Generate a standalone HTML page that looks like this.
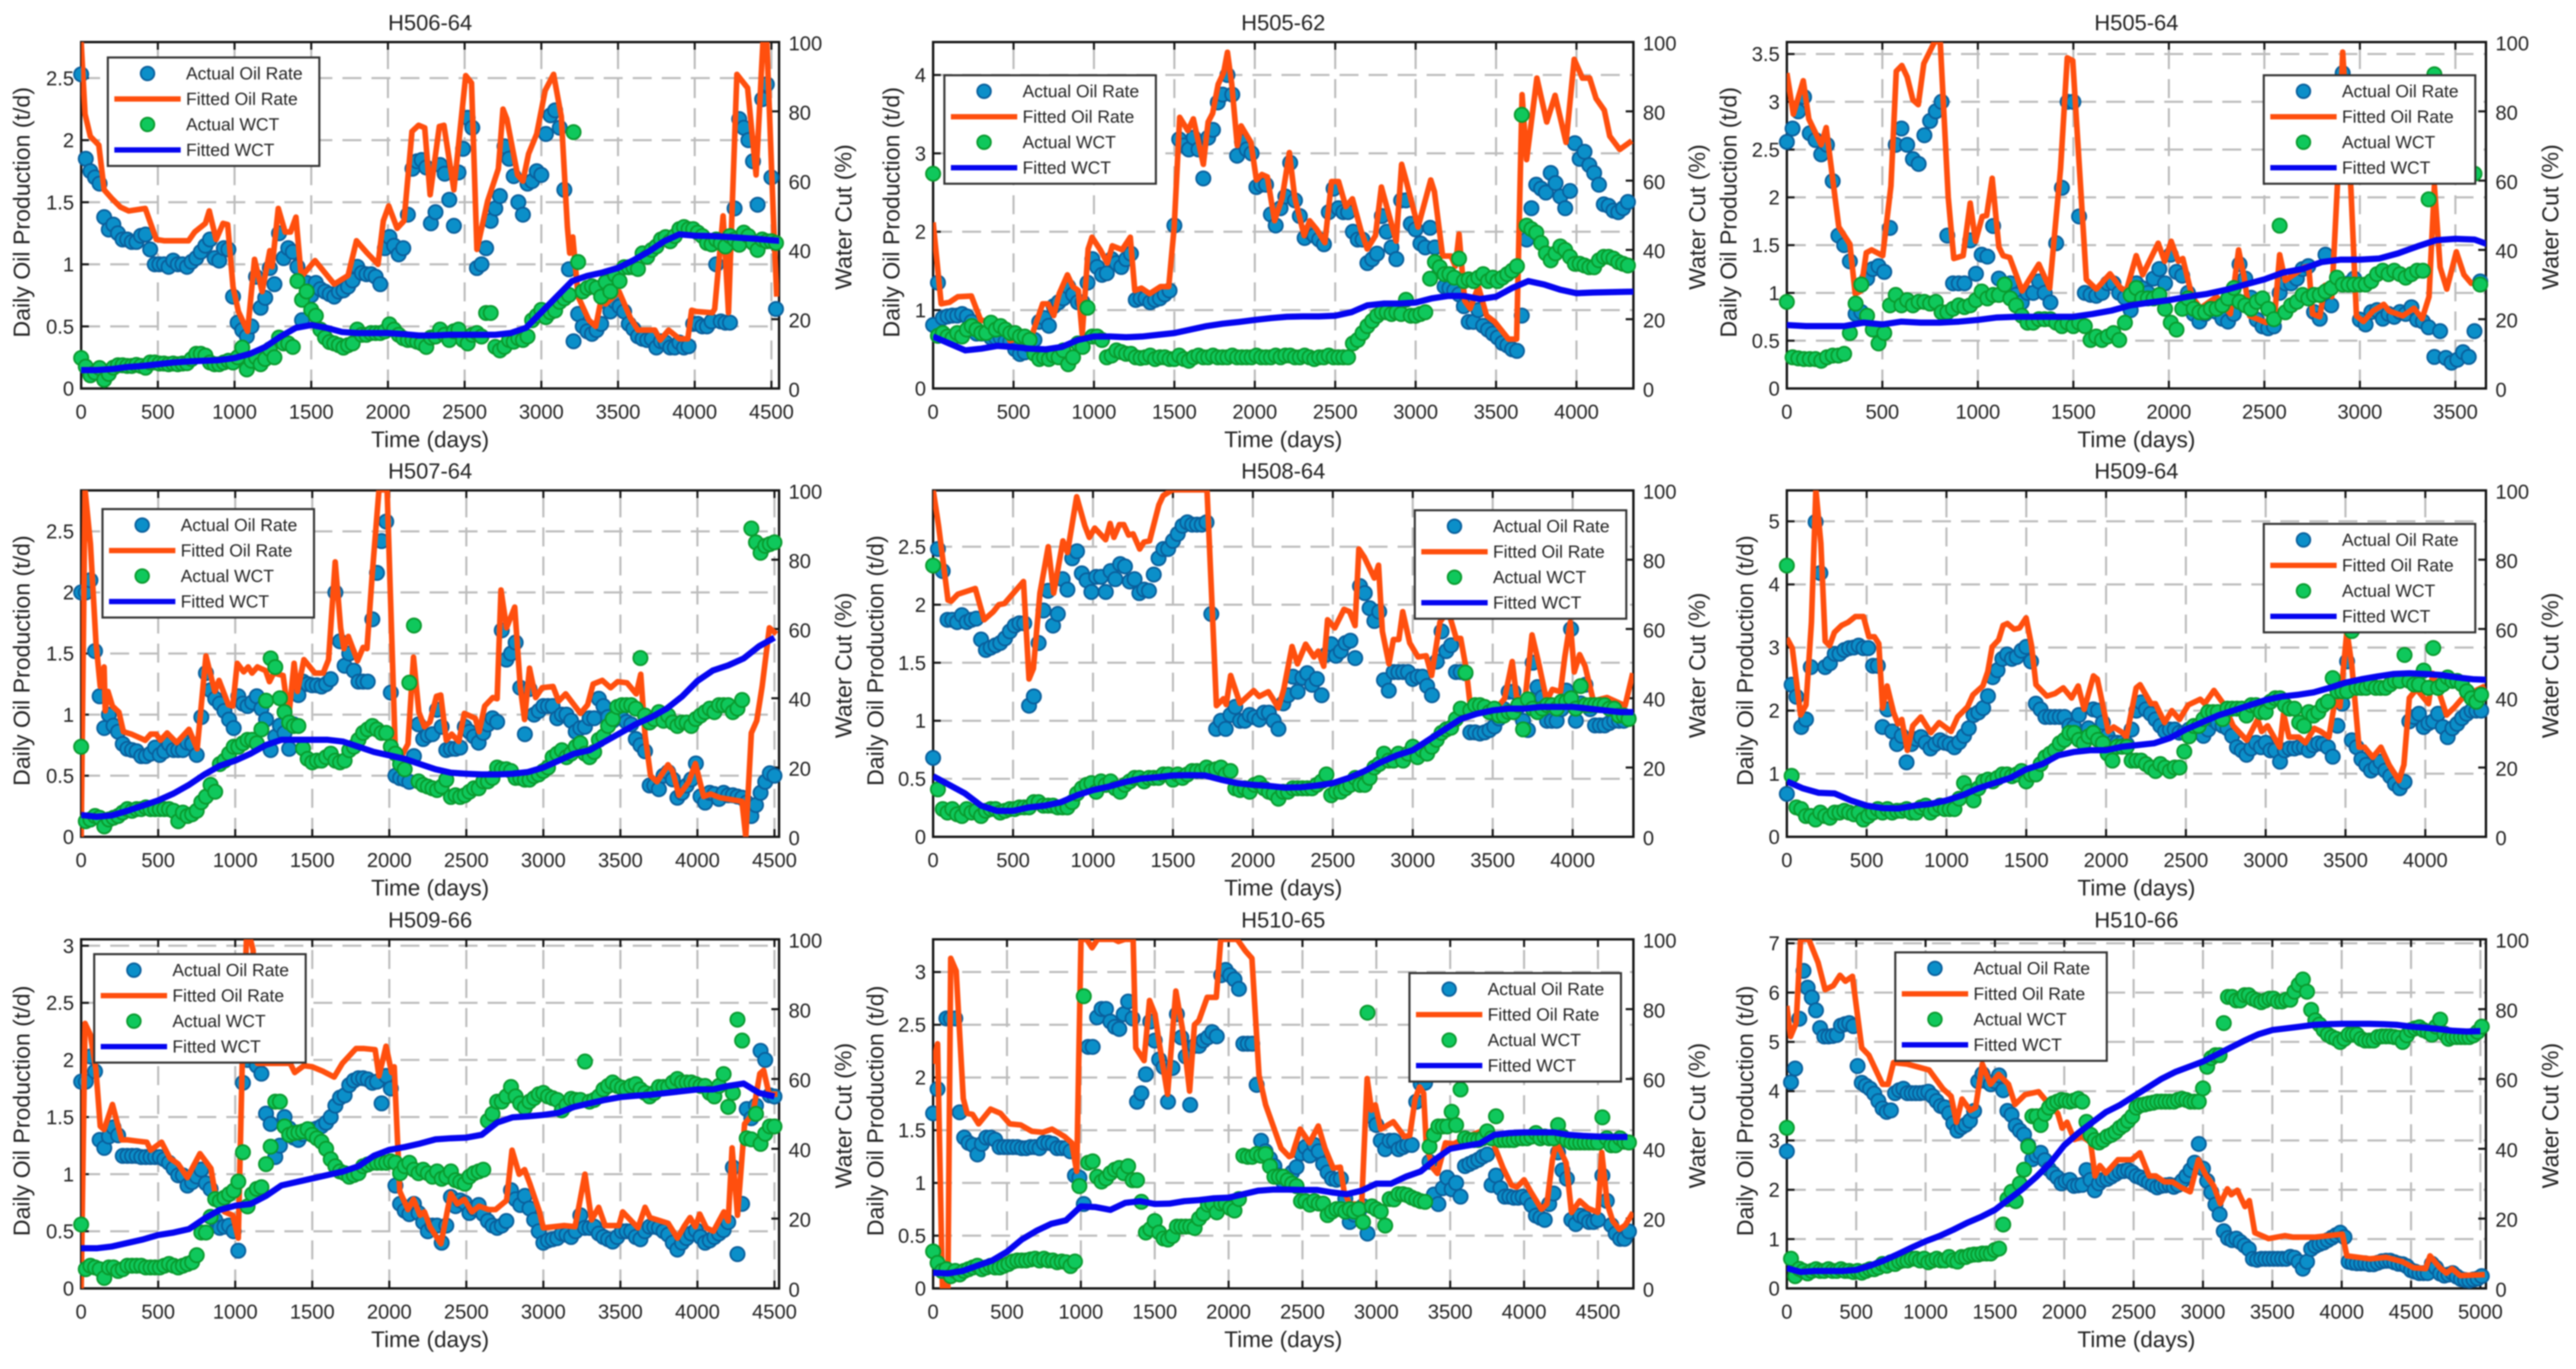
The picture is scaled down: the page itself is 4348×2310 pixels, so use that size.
<!DOCTYPE html>
<html lang="en">
<head>
<meta charset="utf-8">
<title>Oil rate and water cut fits for nine wells</title>
<style>
html,body{margin:0;padding:0;background:#fff;}
#chart{display:block;width:4348px;height:2310px;filter:blur(1px);font-family:"Liberation Sans",sans-serif;}
</style>
</head>
<body>
<svg id="chart" viewBox="0 0 4348 2310" width="4348" height="2310"></svg>
<script>
/* Sampling intervals (days) for the regularly spaced series */
const sampleDays = 30;
const fitWctDays = 100;

/* ---------- H506-64 ---------- */
const h50664XTicks = [0,500,1000,1500,2000,2500,3000,3500,4000,4500];
const h50664YTicks = [0,0.5,1,1.5,2,2.5];
const h50664ActualOil = [
2.53,1.85,1.75,1.70,1.65,1.38,1.28,1.32,1.25,1.2,
1.2,1.18,1.18,1.23,1.24,1.12,1.0,1.0,1.0,.98,
1.03,1.0,1.0,.98,1.02,1.05,1.1,1.15,1.2,1.05,
1.03,1.13,1.12,.74,.53,.47,.42,.5,.9,.65,
.73,.97,.84,1.25,1.05,1.13,1.1,.98,.55,.85,
.75,.85,.8,.78,.76,.74,.78,.79,.82,.87,
.98,.93,.92,.92,.9,.84,1.13,1.22,1.15,1.08,
1.13,1.4,1.77,1.83,1.84,1.78,1.33,1.42,1.8,1.73,
1.52,1.31,1.74,1.93,2.18,2.1,.97,1.0,1.13,1.35,
1.45,1.55,1.95,1.85,1.71,1.5,1.4,1.65,1.67,1.75,
1.72,2.05,2.2,2.24,2.1,1.6,.96,.38,.6,.5,
.46,.44,.47,.52,.7,.62,.7,.66,.62,.52,
.48,.42,.4,.39,.4,.33,.38,.37,.33,.33,
.37,.33,.34,.52,.52,.5,.5,.54,1.0,.54,
.53,.53,1.45,2.17,2.1,2.0,1.83,1.48,2.33,2.45,
1.7,.64];
const h50664FitDays = [
0,25,60,115,150,200,257,310,418,490,
540,700,740,810,835,880,925,955,990,1025,
1085,1130,1180,1230,1245,1285,1330,1365,1400,1435,
1525,1650,1740,1795,1865,1935,1970,2005,2060,2105,
2157,2200,2240,2275,2335,2365,2430,2507,2545,2580,
2650,2720,2750,2775,2845,2880,2917,2970,3025,3080,
3130,3170,3185,3205,3240,3310,3355,3400,3420,3507,
3580,3630,3740,3775,3830,3900,3955,3980,4010,4115,
4130,4185,4220,4275,4345,4400,4445,4470,4515,4535];
const h50664FitOil = [
2.79,2.21,2.03,1.96,1.6,1.53,1.46,1.43,1.45,1.2,
1.19,1.19,1.26,1.33,1.43,1.2,1.33,1.32,.82,.62,
.46,1.04,.78,1.11,.98,1.45,1.26,1.26,1.38,.9,
1.03,.84,.91,1.19,1.09,1.0,1.35,1.47,1.29,1.35,
2.07,2.12,2.1,1.56,2.11,2.12,1.6,2.52,2.46,1.12,
1.51,1.77,2.25,2.17,1.72,1.67,1.89,2.05,2.4,2.53,
2.19,1.3,1.09,1.22,.74,.55,.5,.78,.68,.78,
.57,.47,.47,.39,.47,.4,.4,.63,.62,.61,
.64,1.39,.61,2.53,2.42,1.72,2.79,2.79,1.32,.74];
const h50664ActualWct = [
8.8,6.3,3.8,4.6,5.9,2.5,4.2,6,6.7,6.7,
6.5,6.5,6.8,6.5,6,7.5,7.5,7.2,7.2,7,
7.2,7,7.2,7.3,8.5,10,10,9.5,7.5,7,
7,7.5,8,7.5,9,11.8,5.5,8,9,7,
8.5,11.3,9,14.7,13,13,12,31,25.6,28,
22.7,21,17,14.7,13.4,13,12.5,11.8,12.5,13,
17,15.5,15.5,16,16,16,16.5,18.5,17,15.5,
14.5,14,14,13.5,13,12,14.7,15,17,15.5,
14,16.5,17,14,13,15.5,16,15,21.8,21.8,
12,11,12,14,13.5,14.5,14,15,19.7,21,
22.7,20.6,22,22.5,25,26,27,74,36.5,28,
29,29.5,29,26.5,30.7,28,32.8,31,35,35,
35,34.5,39,38,40,41,43,43.7,42.5,44,
46,46.6,46,46,45,44,42,41.6,43,42,
41,44,43,41.5,45,44,42,40,43,42.5,
42.5,42];
const h50664FitWct = [
5.3,5.3,5.6,6.2,6.5,7,7.5,7.8,8,8.2,
8.8,10,12,15,17.5,18.3,17.5,16.3,16,16,
16,15.7,15.3,15.3,15.5,15.5,15.5,15.5,16,17.5,
22,26.5,31,32.5,33.5,34.8,37,39.5,42.5,44.5,
44.1,44,43.8,43.5,43.2,42.8,42.5];

/* ---------- H505-62 ---------- */
const h50562XTicks = [0,500,1000,1500,2000,2500,3000,3500,4000];
const h50562YTicks = [0,1,2,3,4];
const h50562ActualOil = [
.81,1.35,.9,.92,.93,.93,.95,.92,.85,.7,
.7,.7,.65,.65,.65,.6,.6,.5,.44,.46,
.55,.62,.85,.9,.8,1.05,1.1,1.15,1.3,1.2,
1.1,1.1,1.35,1.65,1.55,1.45,1.47,1.65,1.6,1.55,
1.65,1.72,1.13,1.15,1.15,1.1,1.13,1.15,1.2,1.25,
2.08,3.18,3.1,3.05,3.2,3.05,2.68,3.2,3.3,3.65,
3.75,4.0,3.75,2.97,3.15,3.05,3.0,2.57,2.6,2.6,
2.22,2.08,2.3,2.45,2.88,2.4,2.2,1.92,2.0,1.95,
1.9,1.84,2.25,2.55,2.3,2.25,2.25,2.0,1.9,1.9,
1.6,1.65,1.72,2.2,2.0,1.8,1.65,2.4,2.4,2.1,
2.03,1.85,1.8,2.05,1.8,1.5,1.3,1.28,1.25,1.2,
1.05,.85,.85,1.0,.8,.75,.7,.65,.58,.55,
.5,.48,.93,1.9,2.3,2.6,2.55,2.5,2.75,2.62,
2.45,2.3,2.52,3.13,2.93,3.02,2.85,2.75,2.6,2.35,
2.33,2.27,2.25,2.3,2.38];
const h50562FitDays = [
0,50,102,153,238,296,426,477,613,681,
715,750,784,835,869,903,927,964,988,1039,
1083,1114,1175,1226,1254,1295,1346,1414,1465,1499,
1533,1584,1618,1680,1710,1738,1772,1806,1830,1857,
1891,1915,1976,2010,2044,2078,2123,2170,2215,2249,
2307,2341,2385,2436,2477,2521,2566,2607,2658,2699,
2750,2787,2879,2913,2940,3015,3094,3117,3168,3220,
3247,3270,3305,3339,3390,3441,3492,3577,3628,3662,
3690,3754,3815,3867,3935,3986,4037,4082,4122,4173,
4207,4269,4344];
const h50562FitOil = [
2.12,1.08,1.1,1.17,1.18,.87,.85,.61,.67,1.08,
1.08,.93,1.21,1.45,1.3,1.25,.69,1.78,1.93,1.77,
1.6,1.82,1.77,1.93,1.25,1.28,1.21,1.3,1.3,2.06,
3.46,3.29,3.44,2.86,3.4,3.51,3.88,4.03,4.29,3.88,
3.1,3.35,3.14,2.66,2.73,2.7,2.14,2.43,3.01,2.43,
1.95,2.14,2.03,1.86,2.64,2.64,2.32,2.42,2.03,1.78,
1.95,2.57,1.88,2.86,2.66,2.06,2.66,2.51,1.69,1.69,
1.56,1.97,1.12,1.02,1.3,.93,.85,.63,.63,3.75,
2.92,3.96,3.4,3.74,3.14,4.2,3.96,3.96,3.7,3.55,
3.22,3.05,3.16];
const h50562ActualWct = [
62,15.2,16,15,14.5,16,15,17,18,17,
16,16,19,17,18,17,16,16,15,15,
14,10,8.5,9,8.5,9.5,9,11,7,9,
13,12,23.3,15,15,14,9,9.5,11,10.5,
10,10,9,8.8,9,9.5,8.5,9,9,8.5,
8.5,9.5,8.5,8,9,9.5,9,9,9.5,9,
9,9,9.5,9,9,9,9,9.5,9,9,
9,9.5,9,9.5,9.5,9,9,9.5,9,8.5,
9,9,9.5,9,9,9,9,13,14,16,
18,19.5,21,22,22,21.5,22,21.5,25.6,21,
21,21.5,22,31.7,36.5,35,33,33,32,37.5,
31,31.5,31,32,33,31,32,31,32,33,
34,35.3,79,47,46,45,42,39,37,39,
41,40,38,36,36,35.5,35,35,37,38,
38,37.5,36.5,36,35.5];
const h50562FitWct = [
15,13,11,11.5,12.3,12,11.5,11.3,12,14,
15,15,14.8,15,15.5,16,17,18,18.7,19.2,
19.8,20.3,20.7,20.8,20.8,21,22,24,24.5,24.5,
24.8,26,26.7,26.7,25.8,26.5,29,31,30,28.5,
27.5,27.7,27.8,27.9,28];

/* ---------- H505-64 ---------- */
const h50564XTicks = [0,500,1000,1500,2000,2500,3000,3500];
const h50564YTicks = [0,0.5,1,1.5,2,2.5,3,3.5];
const h50564ActualOil = [
2.58,2.72,2.9,3.05,2.67,2.6,2.45,2.55,2.17,1.6,
1.5,1.33,.78,.8,1.15,1.25,1.28,1.22,1.68,2.55,
2.72,2.55,2.4,2.35,2.65,2.8,2.9,3.0,1.6,1.1,
1.1,1.1,1.55,1.2,1.4,1.38,1.7,1.15,1.05,1.1,
.98,.9,1.0,1.0,1.12,1.0,.9,1.52,2.1,3.0,
3.0,1.8,1.0,.98,.97,1.0,1.1,1.1,1.0,.95,
.82,1.1,1.05,1.0,1.15,1.25,1.1,1.4,1.22,1.18,
1.0,.78,.7,.78,.85,.8,.73,.7,.78,1.3,
1.15,.95,.72,.65,.63,.65,1.0,1.1,1.1,1.15,
1.25,1.28,.8,.73,1.4,.87,1.1,3.3,1.1,1.15,
.72,.67,.8,.82,.73,.78,.75,.8,.78,.85,
.72,.7,.64,.33,.6,.32,.27,.3,.38,.33,
.6,1.12];
const h50564FitDays = [
0,34,86,115,180,206,272,330,358,387,
416,444,502,545,573,602,630,660,688,717,
774,803,845,874,923,960,988,1023,1046,1075,
1110,1132,1167,1232,1319,1376,1433,1468,1497,1568,
1620,1692,1748,1777,1829,1863,1944,1978,2012,2050,
2073,2122,2165,2250,2322,2365,2394,2423,2508,2552,
2580,2609,2710,2732,2752,2790,2818,2853,2882,2910,
2953,2982,3019,3068,3125,3154,3225,3283,3326,3362,
3390,3420,3455,3505,3545,3583,3610];
const h50564FitOil = [
3.3,2.87,3.22,2.82,2.55,2.73,1.69,1.51,.99,1.02,
1.42,1.45,1.39,2.12,3.32,3.38,3.26,3.02,2.97,3.4,
3.63,3.63,2.0,1.36,1.39,1.94,1.54,1.8,1.81,2.2,
1.48,1.39,1.37,1.02,1.3,1.05,2.3,3.46,3.43,1.14,
1.04,1.2,1.05,1.02,1.39,1.19,1.52,1.33,1.54,1.33,
1.36,.96,.84,.96,.78,1.45,1.17,.76,.69,.72,
1.4,1.13,1.27,1.28,.78,.75,1.08,.96,2.12,3.52,
2.09,.76,.7,.81,.88,.81,.76,.84,.73,.96,
2.12,1.27,1.04,1.43,1.19,1.1,1.1];
const h50564ActualWct = [
25,9,8.7,8.5,8.5,8.5,8,9,9.5,9.5,
10,16,24.5,30,21,17,13,16,24,27,
24,25.5,24,25,25,24.5,25,22,22,23,
24,23.5,24,25.5,28,26,27,27,30,26,
24,21,19,19,20,20,20,19,18,19,
18,19,18,14,15,14,15,16,14,19,
27,29,26,26,26,27,23,19,17,23,
26,23,22,22,23,23,24,26,29,25,
24,23,25,26,23,20,47,22,24,25,
27,26,27,27,28,29,32,30,30,30,
30,30,31,33,34,33,34,33,32,33,
34,34,54.6,90.7,null,null,null,null,null,null,
62,30];
const h50564FitWct = [
18.3,18,18,18,19,18.5,19.3,19,19,19.3,
19.8,20.5,20.7,20.7,20.7,20.7,21.5,22.5,24,24.8,
25.5,26.5,27.3,28.5,30,31.5,33.5,34.5,36.5,37.2,
37.2,37.5,39,41,42.8,43.2,43,41];

/* ---------- H507-64 ---------- */
const h50764XTicks = [0,500,1000,1500,2000,2500,3000,3500,4000,4500];
const h50764YTicks = [0,0.5,1,1.5,2,2.5];
const h50764ActualOil = [
2.0,2.0,2.1,1.52,1.15,.89,1.0,.91,.86,.76,
.72,.71,.7,.66,.66,.68,.73,.67,.7,.76,
.71,.71,.71,.77,.76,.67,.98,1.34,1.2,1.13,
1.09,1.03,.96,.89,1.15,1.09,1.07,1.1,1.15,1.05,
.96,.71,.82,.91,.85,.72,.92,1.16,1.27,1.25,
1.24,1.24,1.23,1.25,1.29,2.0,1.6,1.4,1.5,1.36,
1.27,1.27,1.27,1.78,2.16,2.42,2.58,1.18,.5,.48,
.47,.45,.66,.92,.8,.83,.84,1.04,.9,.71,
.72,.72,.73,.9,.86,.82,.77,.85,.92,.97,
.94,1.69,1.45,1.5,1.59,1.22,.84,1.21,1.0,1.03,
1.07,1.07,1.07,.97,1.0,1.0,.95,.86,.89,.9,
.97,.97,1.13,1.07,.98,.95,.97,.97,.94,.92,
.8,.75,.7,.42,.42,.39,.5,.53,.47,.32,
.36,.42,.47,.6,.33,.28,.36,.35,.31,.36,
.34,.34,.33,.32,.28,.17,.26,.36,.45,.52,.5];
const h50764FitDays = [
0,25,60,96,124,149,156,174,203,245,
274,327,416,451,487,515,558,620,700,753,
810,867,895,956,984,1013,1055,1084,1109,1144,
1197,1222,1250,1311,1347,1382,1404,1446,1517,1571,
1606,1649,1684,1705,1734,1794,1830,1855,1890,1933,
1986,2040,2050,2121,2157,2192,2228,2264,2306,2334,
2370,2405,2451,2487,2558,2583,2619,2672,2700,2725,
2761,2814,2850,2878,2910,2950,2992,3063,3099,3145,
3241,3287,3323,3383,3436,3482,3543,3603,3632,3660,
3696,3738,3809,3838,3880,3944,3987,4040,4086,4147,
4289,4314,4350,4385,4420,4467,4513];
const h50764FitOil = [
0,2.84,2.4,1.59,1.23,1.39,1.03,1.19,1.07,1.02,
.86,.84,.79,.84,.84,.79,.85,.77,.88,.72,
1.48,1.19,1.28,1.08,1.07,1.42,1.35,1.39,1.34,1.39,
1.36,1.27,1.34,1.32,.98,1.42,1.19,1.45,1.34,1.34,
1.45,2.25,1.71,1.54,1.64,1.44,1.55,1.54,2.16,2.84,
2.84,.66,.59,.76,1.47,1.02,.9,.94,1.15,1.16,
.79,.84,.78,1.01,.97,.86,1.07,1.14,1.13,2.02,
1.71,1.88,1.23,.96,1.38,1.14,1.22,1.23,1.11,1.17,
1.01,1.08,1.25,1.28,1.22,1.27,1.26,1.17,1.33,.83,
.5,.45,.59,.54,.34,.45,.6,.33,.35,.32,
.29,0,.85,.95,1.23,1.71,1.66];
const h50764ActualWct = [
26,4.5,5,6,5.5,3,5,5.5,6,7,
8,7.5,8,8,8.5,8,8,8,8,8,
7.5,4.5,7,6,6.5,7.5,10,11.6,15,13,
21,22,24,26,26,27,28,28,27,31,
39.3,51.5,49,40,36,33,32,32,25.5,22.5,
21.5,22,22,23,24,22,21.5,22,25,26,
28,30,31,32,31,30,30,26,24,21,
19.5,44.5,61,16,15,14.5,14,13.5,14.5,16.5,
11.5,12,11.5,12,13,14,14,16,16,17,
20,19.5,19.5,19,17,17,16.5,16.5,17.5,18,
19,20,23,24,25,23,24,26,27,24,
23,24.5,28,29,32,34,37.5,38,38,38,
37,51.6,35,33,34,36,33.5,35,33,32,
33,33,32,34,35,36,37,36,38,38,
38,36,37,39.5,null,89,85,82,84,84.5,85];
const h50764FitWct = [
6.3,5.8,6.2,7.5,9,10.5,12.5,15,18,20.5,
22,24,26.5,28,28,28,28,27.5,26,24.5,
23.5,22.5,21,19.5,18.5,18.2,18,18,18.2,18.7,
20,22,24,25,27.5,30,32.5,34.5,37,40.5,
45,48,49.5,51.5,55,57.5];

/* ---------- H508-64 ---------- */
const h50864XTicks = [0,500,1000,1500,2000,2500,3000,3500,4000];
const h50864YTicks = [0,0.5,1,1.5,2,2.5];
const h50864ActualOil = [
.68,2.48,2.29,1.87,1.87,1.85,1.91,1.85,1.87,1.88,
1.7,1.61,1.63,1.65,1.67,1.71,1.77,1.82,1.84,1.84,
1.13,1.21,1.67,1.95,2.12,1.82,1.92,2.22,2.13,2.4,
2.46,2.27,2.21,2.11,2.24,2.24,2.11,2.29,2.22,2.35,
2.33,2.2,2.22,2.1,2.13,2.12,2.26,2.4,2.48,2.48,
2.55,2.61,2.68,2.71,2.69,2.69,2.69,2.71,1.92,.93,
1.0,.93,1.05,1.12,1.0,1.0,1.05,1.03,1.01,1.07,
1.07,1.0,.93,1.15,1.22,1.38,1.25,1.37,1.41,1.31,
1.36,1.22,1.57,1.66,1.56,1.6,1.67,1.69,1.54,2.16,
2.1,1.97,1.86,1.94,1.35,1.26,1.42,1.42,1.42,1.42,
1.36,1.38,1.38,1.3,1.22,1.51,1.77,1.6,1.65,1.42,
1.42,1.41,.9,.9,.89,.9,.92,.95,1.02,1.1,
1.25,1.25,1.12,1.0,.92,1.5,1.29,1.2,1.0,1.0,
1.0,1.1,1.26,1.79,1.0,1.15,1.31,1.1,.96,.96,
.96,.98,1.0,1.0,1.0,1.02];
const h50864FitDays = [
0,34,93,113,154,264,319,377,411,446,
565,600,627,668,720,754,812,840,898,949,
977,1011,1079,1107,1131,1165,1193,1223,1251,1292,
1319,1354,1412,1439,1498,1713,1772,1816,1833,1861,
1919,2005,2039,2097,2125,2159,2193,2245,2279,2330,
2382,2409,2443,2467,2512,2570,2605,2639,2663,2697,
2759,2786,2810,2851,2879,2913,2937,2981,3033,3084,
3118,3170,3221,3272,3300,3334,3358,3427,3530,3574,
3622,3650,3701,3746,3787,3838,3873,3924,3951,3985,
4010,4044,4078,4130,4215,4328,4376];
const h50864FitOil = [
2.99,2.68,2.04,2.03,2.09,2.14,1.87,1.94,2.0,2.01,
2.2,1.36,1.45,2.1,2.5,2.1,2.55,2.45,2.93,2.68,
2.58,2.66,2.56,2.7,2.58,2.69,2.69,2.6,2.61,2.48,
2.54,2.55,2.86,2.94,2.99,2.99,1.13,1.19,1.14,1.39,
1.15,1.26,1.21,1.25,1.19,1.11,1.27,1.64,1.49,1.66,
1.55,1.6,1.47,1.87,1.8,1.96,1.94,1.82,2.48,2.41,
2.23,2.34,1.77,1.49,1.7,1.7,1.94,1.67,1.55,1.56,
1.39,1.85,1.95,1.71,1.71,1.45,1.15,1.12,1.12,1.19,
1.51,1.2,1.17,1.74,1.5,1.17,1.27,1.25,1.55,1.85,
1.42,1.57,1.47,1.17,1.2,1.13,1.41];
const h50864ActualWct = [
78.3,13.7,8,7,8,6.5,6,8,7,7.5,
6,7.5,8,8,7,7.5,8,8,8.5,8.5,
8.5,10,10,9,9,9,8.5,8.5,8.5,10,
12.5,14,15,15.5,13,16,15,16,14,13,
15,16,17,17,16,17,17,17,18,18,
16.5,18,17,18,19,19,19,20,19,19.5,
20,18,19,14,13.5,14,13,15,15.5,14,
13,12.5,11,13,13,14,14,14,14,14,
15,16,18,12,13,13,14,15,17,15,
15,17,20,21,24,22,22,24,22,24,
26,23,25,24,26,28,30,31,31.5,34,
37,47.4,36.5,38,38,37.5,36,37,35,35,
36,36,38,31,39.7,37,36,37,38,38,
37,39,39,40,37,43.5,38,38,38,38,
38,37,37,35,35,34];
const h50864FitWct = [
17.5,15,12.5,9,7.5,7.5,8.5,9,10,12,
13.5,14.5,15.8,16.8,17.2,17.7,17.8,17.7,16.5,15.5,
15,14.7,14.2,14.3,14.8,15.5,17,19,21.5,23.5,
25,28,31,34,35.5,36.5,37,37,37.5,37.5,
37.5,37,36.5,36,36];

/* ---------- H509-64 ---------- */
const h50964XTicks = [0,500,1000,1500,2000,2500,3000,3500,4000];
const h50964YTicks = [0,1,2,3,4,5];
const h50964ActualOil = [
.68,2.41,2.22,1.74,1.86,2.69,4.99,4.18,2.69,2.75,
2.9,2.9,2.96,2.99,3.0,3.03,2.99,2.99,2.71,2.71,
1.74,2.02,1.67,1.47,1.6,1.18,1.47,1.55,1.58,1.49,
1.4,1.47,1.53,1.49,1.47,1.42,1.5,1.6,1.72,1.93,
1.97,2.04,2.23,2.53,2.64,2.82,2.89,2.82,2.85,2.95,
3.01,2.78,2.11,2.02,1.9,1.9,1.9,1.9,1.9,1.76,
1.74,1.93,1.65,1.72,2.02,2.0,1.81,1.6,1.49,1.49,
1.49,1.47,1.7,2.0,2.13,2.02,1.95,1.86,1.76,1.67,
1.7,1.7,1.65,1.65,1.7,1.72,1.76,1.6,1.7,1.86,
1.8,1.76,1.72,1.6,1.42,1.37,1.3,1.4,1.49,1.42,
1.49,1.37,1.37,1.19,1.37,1.4,1.4,1.42,1.42,1.37,
1.45,1.48,1.47,1.42,1.27,1.76,2.11,2.78,1.53,1.42,
1.23,1.14,1.05,1.1,1.19,1.05,.96,.84,.77,.87,
1.83,1.9,1.95,1.74,1.8,1.83,1.95,1.74,1.58,1.72,
1.79,1.88,1.95,2.0,2.0,2.0];
const h50964FitDays = [
0,34,86,120,154,182,213,240,268,298,
343,384,429,480,514,549,576,600,628,669,
696,720,755,789,840,902,954,1029,1070,1132,
1166,1228,1259,1286,1327,1355,1382,1423,1458,1499,
1533,1561,1629,1680,1732,1784,1825,1863,1921,1945,
2014,2048,2103,2127,2189,2213,2281,2309,2367,2412,
2460,2515,2590,2618,2676,2735,2796,2882,2950,2975,
3012,3088,3112,3146,3208,3249,3304,3345,3396,3437,
3465,3509,3540,3585,3619,3671,3722,3773,3835,3866,
3900,3945,4020,4047,4133,4185,4243,4375];
const h50964FitOil = [
3.15,2.99,1.93,2.09,3.4,5.5,4.65,3.1,3.03,3.24,
3.35,3.4,3.49,3.49,3.17,3.17,3.06,2.04,2.39,1.97,
1.79,1.86,1.37,1.76,1.9,1.65,1.81,1.67,1.9,2.06,
2.25,2.39,2.62,3.01,3.12,3.35,3.38,3.29,3.31,3.47,
3.03,2.41,2.23,2.27,2.36,2.2,2.39,2.02,2.55,2.5,
1.67,1.74,1.65,1.58,2.36,2.41,2.11,2.11,1.81,2.0,
1.86,2.09,2.18,2.11,2.32,2.11,1.76,1.53,1.86,1.67,
1.76,1.42,1.95,1.58,1.58,1.49,1.72,1.67,1.58,2.2,
2.06,3.26,2.71,1.42,1.42,1.26,1.42,1.14,.89,1.14,
2.2,2.34,2.11,2.59,1.93,2.06,2.23,2.39];
const h50964ActualWct = [
78.3,17.6,8.5,8,6,6,5,7,6,5.5,
7,7,7.5,7,6.5,7,5,6,7,8,
7,8,7,7.5,7.5,8,7,7,8.5,9,
7,8,9,8,8,8,11,15.5,13,10.5,
14,16,16.5,16,17,18,18,17.5,18,19,
16,18,18,21,23,24,25,27,28,30,
30,28,27,29,30,28,27,24,22,26,
26,26,22,22,22,21,20,19,21,20,
19,20,20,24.6,29,32,32,34,36,36,
36,34,37,37,37,37,35,38,38,36,
36,39,40,40,38,37,37,33,32,36,
35,36,38,39,45.8,42,42,42,59.4,43,
43,43,44,43,43,43,44,45,45,52.5,
45,44,44,48,43,54.5,43,44,46,45,
45,44,42,40,39,41];
const h50964FitWct = [
16,14,12.7,12.5,10.5,9,8.3,8.2,9,9.5,
10.5,12,14,15.5,17,19.5,21,23.5,24.5,25,
25,26,26.5,27,28.5,31,33,35,36.5,38,
39.5,40.5,41,41.7,43,44.5,45.5,46.3,47,47.2,
47,46.7,46,45.5,45.3];

/* ---------- H509-66 ---------- */
const h50966XTicks = [0,500,1000,1500,2000,2500,3000,3500,4000,4500];
const h50966YTicks = [0,0.5,1,1.5,2,2.5,3];
const h50966ActualOil = [
1.81,1.81,2.03,1.9,1.3,1.23,1.33,1.41,1.34,1.16,
1.16,1.16,1.16,1.15,1.15,1.15,1.15,1.15,1.13,1.1,
1.05,.99,.99,.9,.93,.98,1.04,.92,.87,.6,
.53,.54,.55,.5,.33,1.8,2.0,2.05,1.95,1.88,
1.53,1.44,1.15,1.25,1.5,1.4,1.32,1.3,1.35,1.37,
1.39,1.4,1.42,1.45,1.5,1.6,1.67,1.69,1.78,1.82,
1.84,1.84,1.83,1.8,1.81,1.62,1.86,1.75,.9,.74,
.68,.65,.74,.66,.58,.5,.55,.55,.4,.55,
.8,.72,.77,.75,.66,.7,.73,.65,.59,.55,
.53,.55,.59,.86,.78,.73,.81,.7,.6,.5,
.4,.42,.43,.44,.48,.47,.45,.5,.64,.53,
.53,.54,.48,.45,.43,.41,.45,.5,.5,.5,
.45,.43,.5,.54,.54,.53,.5,.47,.4,.34,
.4,.44,.48,.51,.45,.4,.42,.45,.48,.51,
.58,1.06,.3,.74,1.57,1.49,1.6,2.08,2.0,1.69,
1.68];
const h50966FitDays = [
0,25,60,96,124,149,203,263,302,362,
426,451,522,576,629,689,771,842,877,931,
984,1020,1045,1073,1098,1116,1144,1357,1386,1446,
1500,1571,1642,1695,1784,1837,1908,1933,1979,2015,
2032,2068,2121,2157,2200,2228,2264,2335,2399,2441,
2487,2537,2583,2644,2690,2761,2797,2843,2878,2914,
2975,3000,3135,3206,3270,3313,3359,3401,3490,3515,
3614,3660,3692,3810,3870,3917,3952,3987,4015,4058,
4104,4172,4200,4225,4260,4306,4360,4405,4430,4465,4520];
const h50966FitOil = [
0,2.32,2.22,1.91,1.42,1.39,1.61,1.3,1.3,1.29,
1.28,1.21,1.28,1.14,1.09,.97,1.18,1.05,.77,.67,
.64,.44,1.94,3.06,3.06,2.96,1.97,1.97,1.89,1.95,
1.94,1.9,1.85,1.97,2.1,2.1,2.09,1.86,2.12,1.89,
1.94,.85,.69,.78,.64,.67,.54,.39,.83,.74,
.78,.67,.72,.69,.69,.77,1.21,1.0,1.04,.91,
.67,.53,.55,.54,1.0,.6,.71,.55,.55,.67,
.53,.71,.62,.57,.44,.55,.62,.54,.65,.53,
.5,.67,.59,1.23,.64,1.44,1.53,1.88,1.91,1.7,1.7];
const h50966ActualWct = [
18.3,5.5,6.5,6,5.5,3,6,6,5,5.5,
6.5,6.5,6.5,6.5,6,6,6,6,6.5,7,
6.5,6,6.5,7,7.5,9.5,16,16,20.5,25.6,
25,26,27,28,30.6,39,23.5,27,28.5,29,
35.6,40.6,53.5,53.5,46.4,44,44.5,44.7,45,45.6,
44,43,42,40,37,35,33.5,33,32,32.5,
33,35,35.5,36,36,36,36,36.4,36,33,
35,36,34,33,34,33,32,33.5,31.4,32,
33.5,31,30.5,30,32,33,33.5,34,48,50,
53.5,53.5,55,57.7,55,53,51.8,53.5,54.5,55.6,
56,55,54.5,54,51,52.5,54.3,54,54,65,
53.5,54,55,57,58,59,58,57.5,57,58,
58.5,57,56,55,56,57.7,57.7,57.7,59,60,
59,59,59,58.5,58,58,56,55,58,61.4,
52,56,77,71,43,42.7,50,41.4,44.3,46.4,
46.4];
const h50966FitWct = [
11.5,11.5,12,13,14,15.3,16,17,20,22.5,
23.7,24.2,26.5,29.5,30.5,31.5,32.5,33.5,35,38,
39.7,40.5,41.5,42.7,43,43.2,44,47.5,49,49.3,
49.7,50.3,52,53,54,54.8,55.2,55.5,56,56.5,
57,57,58,58.7,56,55];

/* ---------- H510-65 ---------- */
const h51065XTicks = [0,500,1000,1500,2000,2500,3000,3500,4000,4500];
const h51065YTicks = [0,0.5,1,1.5,2,2.5,3];
const h51065ActualOil = [
1.66,1.89,null,2.56,2.56,2.56,1.67,1.43,1.38,1.36,
1.27,1.37,1.43,1.43,1.41,1.34,1.34,1.34,1.34,1.34,
1.33,1.33,1.34,1.34,1.33,1.38,1.38,1.37,1.33,1.33,
1.33,1.3,1.07,1.05,.8,2.29,2.29,2.57,2.65,2.65,
2.53,2.48,2.46,2.6,2.72,2.56,1.77,1.85,2.03,2.53,
2.35,2.17,2.1,1.77,2.09,2.6,2.38,2.2,1.74,2.3,
2.3,2.35,2.38,2.43,2.39,2.97,3.02,2.97,2.93,2.84,
2.32,2.32,2.32,1.93,1.4,1.3,1.23,1.16,1.07,1.01,
1.05,1.1,1.15,1.28,1.34,1.26,1.36,1.3,1.18,1.1,
1.04,1.03,1.04,.85,.63,.7,.72,.78,.52,1.63,
1.55,1.4,1.32,1.4,1.4,1.32,1.34,1.36,1.36,1.77,
1.94,1.95,1.2,.89,.8,.95,1.05,.94,1.0,.87,
1.16,1.18,1.2,1.22,1.25,1.27,.98,1.07,.95,.87,
.87,.86,.86,.87,.85,.79,.69,.67,.65,.8,
.9,1.29,1.12,1.04,.65,.61,.69,.67,.63,.63,
.65,1.07,.83,.6,.52,.47,.47,.54];
const h51065FitDays = [
0,30,63,100,119,156,204,230,267,308,
389,456,519,593,668,742,805,890,938,972,
1001,1039,1076,1113,1224,1254,1298,1354,1372,1428,
1465,1502,1528,1587,1643,1688,1736,1769,1799,1855,
1917,1947,2058,2114,2158,2206,2251,2355,2410,2429,
2485,2548,2607,2652,2708,2756,2782,2819,2901,2938,
2967,2993,3030,3067,3115,3189,3226,3263,3293,3320,
3338,3383,3413,3468,3524,3617,3709,3765,3802,3858,
3914,3951,4000,4044,4118,4155,4192,4218,4248,4285,
4321,4377,4433,4500,4526,4563,4600,4645,4685,4737];
const h51065FitOil = [
2.13,2.32,0,0,3.13,3.01,1.8,1.66,1.65,1.56,
1.7,1.66,1.56,1.55,1.49,1.48,1.51,1.44,1.38,1.11,
3.31,3.31,3.23,3.31,3.31,3.29,3.31,3.31,2.28,2.16,
2.73,2.6,2.35,1.84,2.82,2.46,1.87,2.5,2.54,2.76,
2.76,3.31,3.31,3.2,3.13,2.02,1.74,1.33,1.25,1.26,
1.51,1.38,1.54,1.33,1.14,1.15,.92,.8,.8,1.99,
1.69,1.74,1.51,1.54,1.58,1.44,1.45,1.8,1.91,1.85,
1.36,1.14,1.09,1.38,1.37,1.44,1.49,1.49,1.34,1.14,
.98,.96,1.03,.92,.75,.8,1.22,1.38,1.3,1.19,
.72,.83,.76,.72,1.29,.8,.64,.56,.6,.72];
const h51065ActualWct = [
10.6,7.3,5,5.5,3.5,5,4,5,5.5,6,
6.5,5.5,6,6.5,6,6,6.5,7,7.7,8,
8,8,8.3,8.5,8,8.5,8,8,7.5,7.7,
7.5,6.4,7.7,29.3,83.7,36,36.4,32,30.6,31.5,
33,34,34.5,33,35,31,31,24.8,16,17,
19.3,16,14.3,14,15,17.7,17.7,17.7,17.7,17.3,
20,21.4,24,24.3,21.8,24.3,24.3,23,22.3,25.6,
38,37.7,37.7,38.5,38,38.5,35,32,32,32,
31,30,29.3,25,25,24,25,24.3,24.3,21,
22,22.7,22.7,22,22.7,22,22.7,19,79,23.5,
22.7,22,18,25.6,25.5,27,27,26.7,26,25.5,
25,24.8,40.6,44,46.4,46.4,46.4,50.6,46.8,57,
43,42.5,42.5,42.5,43,45,43,49.3,42.5,42.5,
42.5,42.5,43,43,43,43.5,44.5,43,43.5,43,
43,46.8,43.5,42.5,41.8,41.8,41.8,41.8,41.8,41.8,
41.8,49,43,41,41,43,42,41.8];
const h51065FitWct = [
4.5,4.3,5,6.5,8,10.5,14,16.5,18.5,19.5,
23.5,23.3,22.5,24.5,25,24.2,24.3,25,25.3,25.8,
26,27,28,28.3,28.3,28.2,28.2,27.5,27,28,
30,30,32,33.5,37,40,40.8,41.5,44,44.5,
44.7,44.7,44.7,44,43.7,43.5,43.4,43.4];

/* ---------- H510-66 ---------- */
const h51066XTicks = [0,500,1000,1500,2000,2500,3000,3500,4000,4500,5000];
const h51066YTicks = [0,1,2,3,4,5,6,7];
const h51066ActualOil = [
2.78,4.18,4.46,5.47,6.44,6.1,5.9,5.64,5.28,5.11,
5.11,5.12,5.14,5.33,5.36,5.38,5.32,4.51,4.17,4.11,
4.05,3.95,3.8,3.65,3.58,3.61,3.96,4.02,4.05,3.96,
3.96,3.96,3.96,3.97,3.99,3.9,3.8,3.7,3.67,3.55,
3.35,3.2,3.27,3.32,3.4,3.6,4.2,4.35,4.2,4.14,
4.2,4.32,4.02,3.6,3.52,3.3,3.2,3.12,2.9,2.62,
2.7,2.75,2.6,2.42,2.33,2.25,2.13,2.18,2.2,2.08,
2.09,2.1,2.4,2.2,1.99,2.13,2.2,2.22,2.27,2.32,
2.37,2.38,2.4,2.35,2.28,2.25,2.2,2.15,2.1,2.05,
2.08,2.09,2.1,2.06,2.1,2.18,2.28,2.4,2.55,2.93,
2.43,2.18,1.95,1.7,1.5,1.16,1.02,.98,1.01,.94,
.87,.8,.6,.58,.6,.6,.6,.6,.6,.6,
.6,.64,.62,.54,.4,.54,.8,.86,.9,.93,
.98,1.03,1.08,1.13,1.04,.54,.52,.51,.51,.51,
.49,.49,.52,.55,.56,.56,.53,.5,.49,.45,
.37,.34,.31,.31,.31,.5,.42,.3,.26,.28,
.31,.24,.19,.17,.16,.18,.2,.25];
const h51066FitDays = [
0,27,67,99,158,225,276,335,383,422,
473,540,591,690,730,769,868,1026,1125,1184,
1223,1263,1322,1361,1409,1468,1527,1598,1645,1717,
1815,1874,1953,1985,2020,2072,2131,2190,2222,2257,
2301,2387,2486,2545,2612,2660,2723,2780,2841,2908,
2967,3018,3077,3125,3176,3204,3248,3303,3334,3374,
3473,3591,3650,3808,4005,4037,4202,4320,4439,4518,
4605,4637,4708,4755,4795,4854,5032];
const h51066FitOil = [
5.73,5.11,5.38,7.08,7.08,6.61,6.06,6.14,6.35,6.23,
6.33,4.88,4.73,4.14,4.14,4.58,4.55,4.43,4.05,3.9,
3.37,3.84,3.61,3.67,4.55,4.14,4.34,4.14,3.73,3.93,
3.99,3.79,3.55,3.25,3.37,3.02,3.08,2.96,2.28,2.49,
2.34,2.61,2.61,2.75,2.28,2.28,2.16,2.16,2.05,1.96,
2.61,2.31,2.08,1.72,2.02,1.9,1.99,1.66,1.78,1.13,
1.01,1.07,1.04,1.04,1.1,.66,.6,.63,.54,.42,
.4,.66,.42,.31,.4,.26,.28];
const h51066ActualWct = [
46,8.5,3.5,5.6,5,4.3,5,5.5,5,5,
5.5,5,5,5.5,5,5,4.7,5,4.5,5,
5.5,5.5,6,7,6.5,7.5,7,7.7,8,8,
8.5,8.5,8,8.5,7.5,8,8.5,8,8,9,
8,7.7,9,9,9.5,9.7,9.7,10,10,10,
11,11.4,18.3,25.6,27.7,25,30,34,40.6,49.3,
49.3,46.8,50,51.8,53,53.5,54,53.8,53.5,53.8,
54.3,53.5,47.7,44,42.5,41.8,42.5,43.5,44,44.8,
46,46.8,48,49.3,51.8,52.5,52.7,53,53.2,53.5,
53.5,53.5,53.5,53.5,54,54.3,54,53.5,53.5,53.5,
57.3,63.5,66,66.8,66.8,76,83.5,83.5,82.5,82.5,
84,84,83,82.5,82,82.5,83,83,82.2,82.2,
82.7,82.7,85,87,88.5,85,79.8,76.8,75.6,74,
72.7,72,71.5,70.6,71.5,72.7,72.7,72.7,71.5,71,
71,71,72,72.2,72.2,72.2,72,71.8,70.6,72.5,
74,74.5,74.8,74,73.5,72.7,75,77,73,71.5,
72,72,72,72,72,72.5,73.5,75];
const h51066FitWct = [
5.8,4.7,5,5,5,5.3,6.5,8,9.8,11.7,
13.5,15,16.8,18.8,20.5,22.5,25.5,28.5,32,36,
41,44.5,47.5,50.5,52.5,55,57.5,60,62,63.5,
65,67,69,71,72.8,74,74.5,75,75.5,75.7,
75.8,75.8,75.8,75.7,75.5,75,74.7,74.3,73.8,73.6,73.7];

/* Legend and right-axis tick values */
const wctTicks = [0,20,40,60,80,100];
const legendLabels = ['Actual Oil Rate','Fitted Oil Rate','Actual WCT','Fitted WCT'];

const wells = [
 {title:'H506-64',left:137,right:1315,top:71,bottom:655.5,xMax:4550,yMax:2.79,yLabelX:37,waterLabelX:1424,legendX:182,legendY:97,xTicks:h50664XTicks,yTicks:h50664YTicks,actualOil:h50664ActualOil,fitDays:h50664FitDays,fitOil:h50664FitOil,actualWct:h50664ActualWct,fitWct:h50664FitWct},
 {title:'H505-62',left:1575,right:2757,top:71,bottom:655.5,xMax:4354,yMax:4.42,yLabelX:1505,waterLabelX:2865,legendX:1594,legendY:127,xTicks:h50562XTicks,yTicks:h50562YTicks,actualOil:h50562ActualOil,fitDays:h50562FitDays,fitOil:h50562FitOil,actualWct:h50562ActualWct,fitWct:h50562FitWct},
 {title:'H505-64',left:3016,right:4196,top:71,bottom:655.5,xMax:3660,yMax:3.625,yLabelX:2918,waterLabelX:4305,legendX:3821,legendY:127,xTicks:h50564XTicks,yTicks:h50564YTicks,actualOil:h50564ActualOil,fitDays:h50564FitDays,fitOil:h50564FitOil,actualWct:h50564ActualWct,fitWct:h50564FitWct},
 {title:'H507-64',left:137,right:1315,top:827.5,bottom:1412,xMax:4530,yMax:2.835,yLabelX:37,waterLabelX:1424,legendX:173,legendY:859,xTicks:h50764XTicks,yTicks:h50764YTicks,actualOil:h50764ActualOil,fitDays:h50764FitDays,fitOil:h50764FitOil,actualWct:h50764ActualWct,fitWct:h50764FitWct},
 {title:'H508-64',left:1575,right:2757,top:827.5,bottom:1412,xMax:4380,yMax:2.985,yLabelX:1478,waterLabelX:2865,legendX:2388,legendY:861,xTicks:h50864XTicks,yTicks:h50864YTicks,actualOil:h50864ActualOil,fitDays:h50864FitDays,fitOil:h50864FitOil,actualWct:h50864ActualWct,fitWct:h50864FitWct},
 {title:'H509-64',left:3016,right:4196,top:827.5,bottom:1412,xMax:4380,yMax:5.49,yLabelX:2946,waterLabelX:4305,legendX:3821,legendY:884,xTicks:h50964XTicks,yTicks:h50964YTicks,actualOil:h50964ActualOil,fitDays:h50964FitDays,fitOil:h50964FitOil,actualWct:h50964ActualWct,fitWct:h50964FitWct},
 {title:'H509-66',left:137,right:1315,top:1585,bottom:2174,xMax:4530,yMax:3.056,yLabelX:37,waterLabelX:1424,legendX:159,legendY:1610,xTicks:h50966XTicks,yTicks:h50966YTicks,actualOil:h50966ActualOil,fitDays:h50966FitDays,fitOil:h50966FitOil,actualWct:h50966ActualWct,fitWct:h50966FitWct},
 {title:'H510-65',left:1575,right:2757,top:1585,bottom:2174,xMax:4740,yMax:3.31,yLabelX:1478,waterLabelX:2865,legendX:2379,legendY:1642,xTicks:h51065XTicks,yTicks:h51065YTicks,actualOil:h51065ActualOil,fitDays:h51065FitDays,fitOil:h51065FitOil,actualWct:h51065ActualWct,fitWct:h51065FitWct},
 {title:'H510-66',left:3016,right:4196,top:1585,bottom:2174,xMax:5040,yMax:7.08,yLabelX:2946,waterLabelX:4305,legendX:3199,legendY:1607,xTicks:h51066XTicks,yTicks:h51066YTicks,actualOil:h51066ActualOil,fitDays:h51066FitDays,fitOil:h51066FitOil,actualWct:h51066ActualWct,fitWct:h51066FitWct}
];

const svgRoot = document.getElementById('chart');
const svgNs = svgRoot.namespaceURI;
const colors = {oilFill:'#0b8fc9',oilEdge:'#0a5f9c',wctFill:'#0fc85c',wctEdge:'#0a9a2e',oilLine:'#ff4f0e',wctLine:'#0606f0',grid:'#bcbcbc',axis:'#151515'};

function make(tag, attrs, parent) {
  const el = document.createElementNS(svgNs, tag);
  for (const key in attrs) el.setAttribute(key, attrs[key]);
  parent.appendChild(el);
  return el;
}

function drawWell(well, index) {
  const plotW = well.right - well.left;
  const plotH = well.bottom - well.top;
  const xAt = d => well.left + d / well.xMax * plotW;
  const yOil = v => well.bottom - v / well.yMax * plotH;
  const yWct = v => well.bottom - v / 100 * plotH;
  const slug = well.title.toLowerCase();

  const group = make('g', {}, svgRoot);
  
  

  const clip = make('clipPath', {id: 'plot-clip-' + index}, group);
  make('rect', {x: well.left, y: well.top, width: plotW, height: plotH}, clip);

  const title = make('text', {x: (well.left + well.right) / 2, y: well.top - 20, 'text-anchor': 'middle', 'font-size': 37, fill: '#222'}, group);
  
  
  title.textContent = well.title;

  /* grid */
  const gridGroup = make('g', {stroke: colors.grid, 'stroke-width': 3.5, 'stroke-dasharray': '32 17', fill: 'none'}, group);
  
  
  well.xTicks.forEach(t => {
    const line = make('line', {x1: xAt(t), x2: xAt(t), y1: well.bottom, y2: well.top}, gridGroup);
    
    
  });
  well.yTicks.forEach(t => {
    const line = make('line', {x1: well.left, x2: well.right, y1: yOil(t), y2: yOil(t)}, gridGroup);
    
    
  });

  /* frame */
  const frame = make('rect', {x: well.left, y: well.top, width: plotW, height: plotH, fill: 'none', stroke: colors.axis, 'stroke-width': 4}, group);
  
  

  /* ticks and labels */
  const tickLen = 13;
  well.xTicks.forEach(t => {
    const x = xAt(t);
    const bottomTick = make('line', {x1: x, x2: x, y1: well.bottom, y2: well.bottom - tickLen, stroke: colors.axis, 'stroke-width': 3.5}, group);
    
    
    const topTick = make('line', {x1: x, x2: x, y1: well.top, y2: well.top + tickLen, stroke: colors.axis, 'stroke-width': 3.5}, group);
    
    
    const label = make('text', {x: x, y: well.bottom + 51, 'text-anchor': 'middle', 'font-size': 34, fill: '#222'}, group);
    
    
    label.textContent = t;
  });
  well.yTicks.forEach(t => {
    const y = yOil(t);
    const tick = make('line', {x1: well.left, x2: well.left + tickLen, y1: y, y2: y, stroke: colors.axis, 'stroke-width': 3.5}, group);
    
    
    const label = make('text', {x: well.left - 12, y: y + 12, 'text-anchor': 'end', 'font-size': 34, fill: '#222'}, group);
    
    
    label.textContent = t;
  });
  wctTicks.forEach(t => {
    const y = yWct(t);
    const tick = make('line', {x1: well.right, x2: well.right - tickLen, y1: y, y2: y, stroke: colors.axis, 'stroke-width': 3.5}, group);
    
    
    const label = make('text', {x: well.right + 16, y: y + 14, 'text-anchor': 'start', 'font-size': 34, fill: '#222'}, group);
    
    
    label.textContent = t;
  });

  const xTitle = make('text', {x: (well.left + well.right) / 2, y: well.bottom + 99, 'text-anchor': 'middle', 'font-size': 38, fill: '#222'}, group);
  
  
  xTitle.textContent = 'Time (days)';

  const midY = (well.top + well.bottom) / 2;
  const yTitle = make('text', {transform: 'translate(' + well.yLabelX + ' ' + (midY - 5) + ') rotate(-90)', y: 13, 'text-anchor': 'middle', 'font-size': 39, fill: '#222'}, group);
  
  
  yTitle.textContent = 'Daily Oil Production (t/d)';

  const wctTitle = make('text', {transform: 'translate(' + well.waterLabelX + ' ' + (midY + 3) + ') rotate(-90)', y: 13, 'text-anchor': 'middle', 'font-size': 39, fill: '#222'}, group);
  
  
  wctTitle.textContent = 'Water Cut (%)';

  /* series */
  const oilPoints = make('g', {fill: colors.oilFill, stroke: colors.oilEdge, 'stroke-width': 3}, group);
  
  
  well.actualOil.forEach((v, i) => {
    if (v === null || v === undefined) return;
    const dot = make('circle', {cx: xAt(i * sampleDays), cy: yOil(v), r: 12}, oilPoints);
    
    
  });

  const oilPath = well.fitOil.map((v, i) => (i ? 'L' : 'M') + xAt(well.fitDays[i]).toFixed(1) + ' ' + yOil(v).toFixed(1)).join('');
  const oilLine = make('path', {d: oilPath, fill: 'none', stroke: colors.oilLine, 'stroke-width': 9.5, 'stroke-linejoin': 'round', 'clip-path': 'url(#plot-clip-' + index + ')'}, group);
  
  

  const wctPoints = make('g', {fill: colors.wctFill, stroke: colors.wctEdge, 'stroke-width': 3}, group);
  
  
  well.actualWct.forEach((v, i) => {
    if (v === null || v === undefined) return;
    const dot = make('circle', {cx: xAt(i * sampleDays), cy: yWct(v), r: 12}, wctPoints);
    
    
  });

  const wctPath = well.fitWct.map((v, i) => (i ? 'L' : 'M') + xAt(i * fitWctDays).toFixed(1) + ' ' + yWct(v).toFixed(1)).join('');
  const wctLine = make('path', {d: wctPath, fill: 'none', stroke: colors.wctLine, 'stroke-width': 10.5, 'stroke-linejoin': 'round', 'clip-path': 'url(#plot-clip-' + index + ')'}, group);
  
  

  /* legend */
  const legend = make('g', {transform: 'translate(' + well.legendX + ' ' + well.legendY + ')'}, group);
  
  
  const box = make('rect', {x: 0, y: 0, width: 357, height: 183, fill: '#fff', stroke: '#333', 'stroke-width': 3.5}, legend);
  
  
  legendLabels.forEach((text, i) => {
    const rowY = 27 + 43 * i;
    if (i % 2 === 0) {
      const swatch = make('circle', {cx: 67, cy: rowY, r: 11.5, fill: i === 0 ? colors.oilFill : colors.wctFill, stroke: i === 0 ? colors.oilEdge : colors.wctEdge, 'stroke-width': 3}, legend);
      
      
    } else {
      const swatch = make('line', {x1: 11, x2: 123, y1: rowY, y2: rowY, stroke: i === 1 ? colors.oilLine : colors.wctLine, 'stroke-width': 9}, legend);
      
      
    }
    const label = make('text', {x: 132, y: rowY + 10, 'font-size': 29.5, fill: '#222'}, legend);
    
    
    label.textContent = text;
  });
}

wells.forEach(drawWell);
</script>
</body>
</html>
